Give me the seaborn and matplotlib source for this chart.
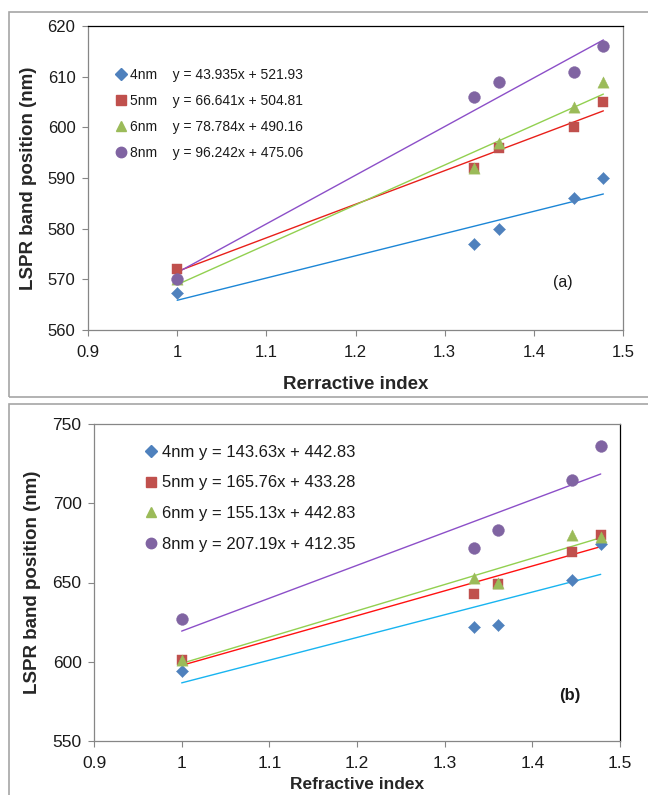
import numpy as np
import pandas as pd
import seaborn as sns
import matplotlib
matplotlib.use("Agg")
import matplotlib.pyplot as plt
from matplotlib.lines import Line2D
from matplotlib.patches import Rectangle

# ---------------- data ----------------
refractive_index = [1.0, 1.333, 1.361, 1.445, 1.478]
sizes = ["4nm", "5nm", "6nm", "8nm"]

# panel (a)
a_4nm = [567.3, 577.0, 580.0, 586.0, 590.0]
a_5nm = [572.0, 592.0, 596.0, 600.0, 605.0]
a_6nm = [570.0, 592.0, 597.0, 604.0, 609.0]
a_8nm = [570.0, 606.0, 609.0, 611.0, 616.0]
a_equations = ["y = 43.935x + 521.93", "y = 66.641x + 504.81",
               "y = 78.784x + 490.16", "y = 96.242x + 475.06"]

# panel (b)
b_4nm = [594.0, 622.0, 623.5, 651.5, 674.0]
b_5nm = [601.0, 643.0, 649.0, 669.0, 680.0]
b_6nm = [601.0, 653.0, 650.0, 680.0, 679.0]
b_8nm = [627.0, 671.5, 683.0, 714.5, 736.0]
b_equations = ["y = 143.63x + 442.83", "y = 165.76x + 433.28",
               "y = 155.13x + 442.83", "y = 207.19x + 412.35"]

x_ticks = [0.9, 1.0, 1.1, 1.2, 1.3, 1.4, 1.5]
x_tick_labels = ["0.9", "1", "1.1", "1.2", "1.3", "1.4", "1.5"]
a_y_ticks = [560, 570, 580, 590, 600, 610, 620]
b_y_ticks = [550, 600, 650, 700, 750]

# ---------------- style ----------------
sns.set_theme(style="white")
plt.rcParams["font.family"] = ["Liberation Sans", "DejaVu Sans"]

marker_colors = {"4nm": "#4F81BD", "5nm": "#C0504D", "6nm": "#9BBB59", "8nm": "#8064A2"}
markers = {"4nm": "D", "5nm": "s", "6nm": "^", "8nm": "o"}
marker_sizes = {"4nm": 38, "5nm": 62, "6nm": 66, "8nm": 72}
a_line_colors = {"4nm": "#1C86D6", "5nm": "#E8201A", "6nm": "#92D050", "8nm": "#8C4FC8"}
b_line_colors = {"4nm": "#18B4F0", "5nm": "#FF1010", "6nm": "#92D050", "8nm": "#8C4FC8"}

W, H = 648, 795
fig = plt.figure(figsize=(W / 100, H / 100), dpi=100)


def frac_rect(x0, y0, x1, y1):
    return [x0 / W, 1 - y1 / H, (x1 - x0) / W, (y1 - y0) / H]


# outer frames
for (x0, y0, x1, y1) in [(9, 12, 660, 397), (9, 404, 660, 810)]:
    fig.patches.append(Rectangle((x0 / W, 1 - y1 / H), (x1 - x0) / W, (y1 - y0) / H,
                                 transform=fig.transFigure, fill=False,
                                 edgecolor="#A6A6A6", linewidth=1.2, zorder=0))

ax_a = fig.add_axes(frac_rect(88, 26, 623, 330))
ax_b = fig.add_axes(frac_rect(94, 424, 620, 741))


def draw_panel(ax, series, line_colors, equations, yticks, ylim,
               tick_fs, leg_fs, sep, leg_anchor, labelspacing, xlabel,
               xlabel_fs, xlabelpad, xtickpad):
    rows = []
    for name, vals in zip(sizes, series):
        for xv, yv in zip(refractive_index, vals):
            rows.append({"x": xv, "y": yv, "size": name})
    df = pd.DataFrame(rows)

    # linear trend lines fitted by seaborn
    for name in sizes:
        sub = df[df["size"] == name]
        sns.regplot(data=sub, x="x", y="y", ax=ax, scatter=False, ci=None,
                    truncate=True, line_kws={"color": line_colors[name], "lw": 1.0,
                                             "zorder": 2})
    for name in sizes:
        sub = df[df["size"] == name]
        sns.scatterplot(data=sub, x="x", y="y", ax=ax, marker=markers[name],
                        color=marker_colors[name], s=marker_sizes[name],
                        edgecolor=marker_colors[name], linewidth=0.3, zorder=3,
                        legend=False)

    ax.set_xlim(0.9, 1.5)
    ax.set_ylim(*ylim)
    ax.set_xticks(x_ticks)
    ax.set_xticklabels(x_tick_labels)
    ax.set_yticks(yticks)
    ax.tick_params(axis="both", direction="out", length=4, width=0.8,
                   color="#868686", labelsize=tick_fs, labelcolor="#1a1a1a",
                   left=True, bottom=True, pad=5)
    ax.tick_params(axis="x", pad=xtickpad)
    ax.set_xlabel(xlabel, fontsize=xlabel_fs, fontweight="bold", labelpad=xlabelpad)
    ax.set_ylabel("LSPR band position (nm)", fontsize=13.5, fontweight="bold", labelpad=8)
    for s in ax.spines.values():
        s.set_color("#868686")
        s.set_linewidth(0.9)

    handles = []
    for name, eq in zip(sizes, equations):
        handles.append(Line2D([], [], linestyle="none", marker=markers[name],
                              color=marker_colors[name],
                              markersize=6 if name == "4nm" else 7.5,
                              label=f"{name}{sep}{eq}"))
    leg = ax.legend(handles=handles, loc="upper left", bbox_to_anchor=leg_anchor,
                    frameon=False, fontsize=leg_fs, handlelength=0.7,
                    handletextpad=0.3, labelspacing=labelspacing, borderpad=0,
                    borderaxespad=0)
    for t in leg.get_texts():
        t.set_color("#1a1a1a")


draw_panel(ax_a, [a_4nm, a_5nm, a_6nm, a_8nm], a_line_colors, a_equations,
           a_y_ticks, (560, 620), 12, 10, "    ", (0.052, 0.862), 0.87,
           "Rerractive index", 13.5, 11, 7)
ax_a.spines["top"].set_color("black")
ax_a.text(0.888, 0.155, "(a)", transform=ax_a.transAxes, fontsize=11.5,
          ha="center", va="center", color="#1a1a1a")

draw_panel(ax_b, [b_4nm, b_5nm, b_6nm, b_8nm], b_line_colors, b_equations,
           b_y_ticks, (550, 750), 12.5, 12, " ", (0.098, 0.935), 0.95,
           "Refractive index", 12.5, 4, 7)
ax_b.spines["right"].set_color("black")
ax_b.text(0.905, 0.145, "(b)", transform=ax_b.transAxes, fontsize=12,
          fontweight="bold", ha="center", va="center", color="#1a1a1a")

fig.savefig("out.png", dpi=100, facecolor="white")
